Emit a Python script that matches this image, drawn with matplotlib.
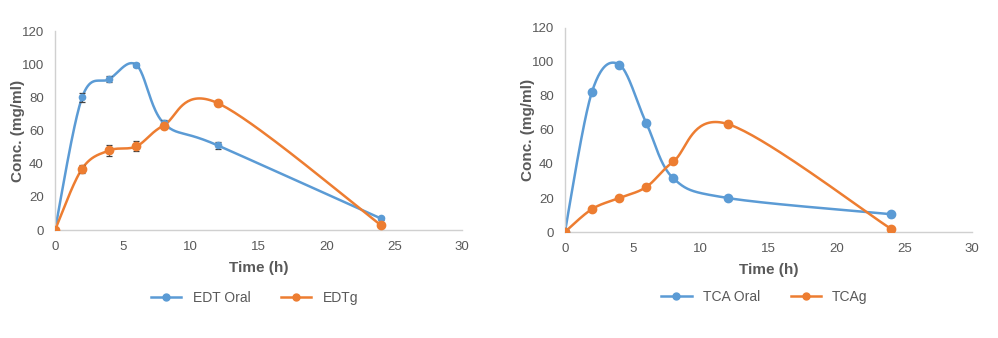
import numpy as np
import matplotlib
matplotlib.use("Agg")
import matplotlib.pyplot as plt

plt.rcParams['font.family'] = ['Liberation Sans', 'DejaVu Sans']

time_h = [0, 2, 4, 6, 8, 12, 24]

edt_oral = [0, 80, 91, 99.5, 64.5, 51, 7]
edt_oral_err = [0, 2.5, 2, 1, 2, 2, 1]
edt_g = [0, 37, 48, 50.5, 63, 76.5, 3]
edt_g_err = [0, 2.5, 3.5, 3, 1.5, 1.5, 1]

tca_oral = [0, 82.5, 98.5, 64, 31.5, 20, 10.5]
tca_oral_err = [0, 1, 1, 1, 1, 1, 1.5]
tca_g = [0, 13.5, 20, 26.5, 41.5, 63.5, 2]
tca_g_err = [0, 1, 1, 1.5, 1, 2, 1]

BLUE = '#5B9BD5'
ORANGE = '#ED7D31'
GRAY = '#595959'


def smooth(x, y, n=40):
    # Excel-like smoothed line: Bezier segments through the points
    x = np.asarray(x, float)
    y = np.asarray(y, float)
    px = np.concatenate([[x[0]], x, [x[-1]]])
    py = np.concatenate([[y[0]], y, [y[-1]]])
    t = np.linspace(0, 1, n)[:, None]
    xs, ys = [], []
    for i in range(1, len(px) - 2):
        p0 = np.array([px[i], py[i]])
        p3 = np.array([px[i + 1], py[i + 1]])
        p1 = p0 + (np.array([px[i + 1], py[i + 1]]) - np.array([px[i - 1], py[i - 1]])) / 6
        p2 = p3 - (np.array([px[i + 2], py[i + 2]]) - np.array([px[i], py[i]])) / 6
        b = ((1 - t) ** 3) * p0 + 3 * ((1 - t) ** 2) * t * p1 + 3 * (1 - t) * t ** 2 * p2 + t ** 3 * p3
        xs.append(b[:, 0])
        ys.append(b[:, 1])
    return np.concatenate(xs), np.concatenate(ys)


def panel(ax, series, legend_y):
    for label, y, err, color, ms in series:
        sx, sy = smooth(time_h, y)
        ax.plot(sx, sy, color=color, lw=1.8, zorder=2)
        ax.errorbar(time_h, y, yerr=err, fmt='none', ecolor='#404040',
                    elinewidth=0.9, capsize=2.5, capthick=0.9, zorder=3)
        ax.plot(time_h, y, 'o', color=color, ms=ms, zorder=4)
        ax.plot([], [], '-o', color=color, ms=5, lw=1.8, label=label)
    ax.set_xlim(0, 30)
    ax.set_ylim(0, 120)
    ax.set_xticks(range(0, 31, 5))
    ax.set_yticks(range(0, 121, 20))
    for s in ['top', 'right']:
        ax.spines[s].set_visible(False)
    for s in ['left', 'bottom']:
        ax.spines[s].set_color('#d0d0d0')
        ax.spines[s].set_linewidth(1.0)
    ax.tick_params(length=0, labelsize=9.5, colors=GRAY)
    ax.tick_params(axis='x', pad=8)
    ax.tick_params(axis='y', pad=8)
    ax.set_xlabel('Time (h)', fontsize=11, fontweight='bold', color=GRAY, labelpad=6)
    ax.set_ylabel('Conc. (mg/ml)', fontsize=11, fontweight='bold', color=GRAY)
    ax.yaxis.set_label_coords(-0.074, 0.5)
    ax.legend(loc='center', bbox_to_anchor=(0.49, legend_y), ncol=2, frameon=False,
              fontsize=10, labelcolor=GRAY, handlelength=2.2, columnspacing=2.2)


fig = plt.figure(figsize=(9.98, 3.38), dpi=100)
ax1 = fig.add_axes([0.0551, 0.3195, 0.408, 0.5887])
ax2 = fig.add_axes([0.566, 0.3136, 0.408, 0.6036])

panel(ax1, [('EDT Oral', edt_oral, edt_oral_err, BLUE, 4.5),
            ('EDTg', edt_g, edt_g_err, ORANGE, 6)], -0.34)
panel(ax2, [('TCA Oral', tca_oral, tca_oral_err, BLUE, 6),
            ('TCAg', tca_g, tca_g_err, ORANGE, 6)], -0.32)

fig.savefig('out.png', dpi=100)
